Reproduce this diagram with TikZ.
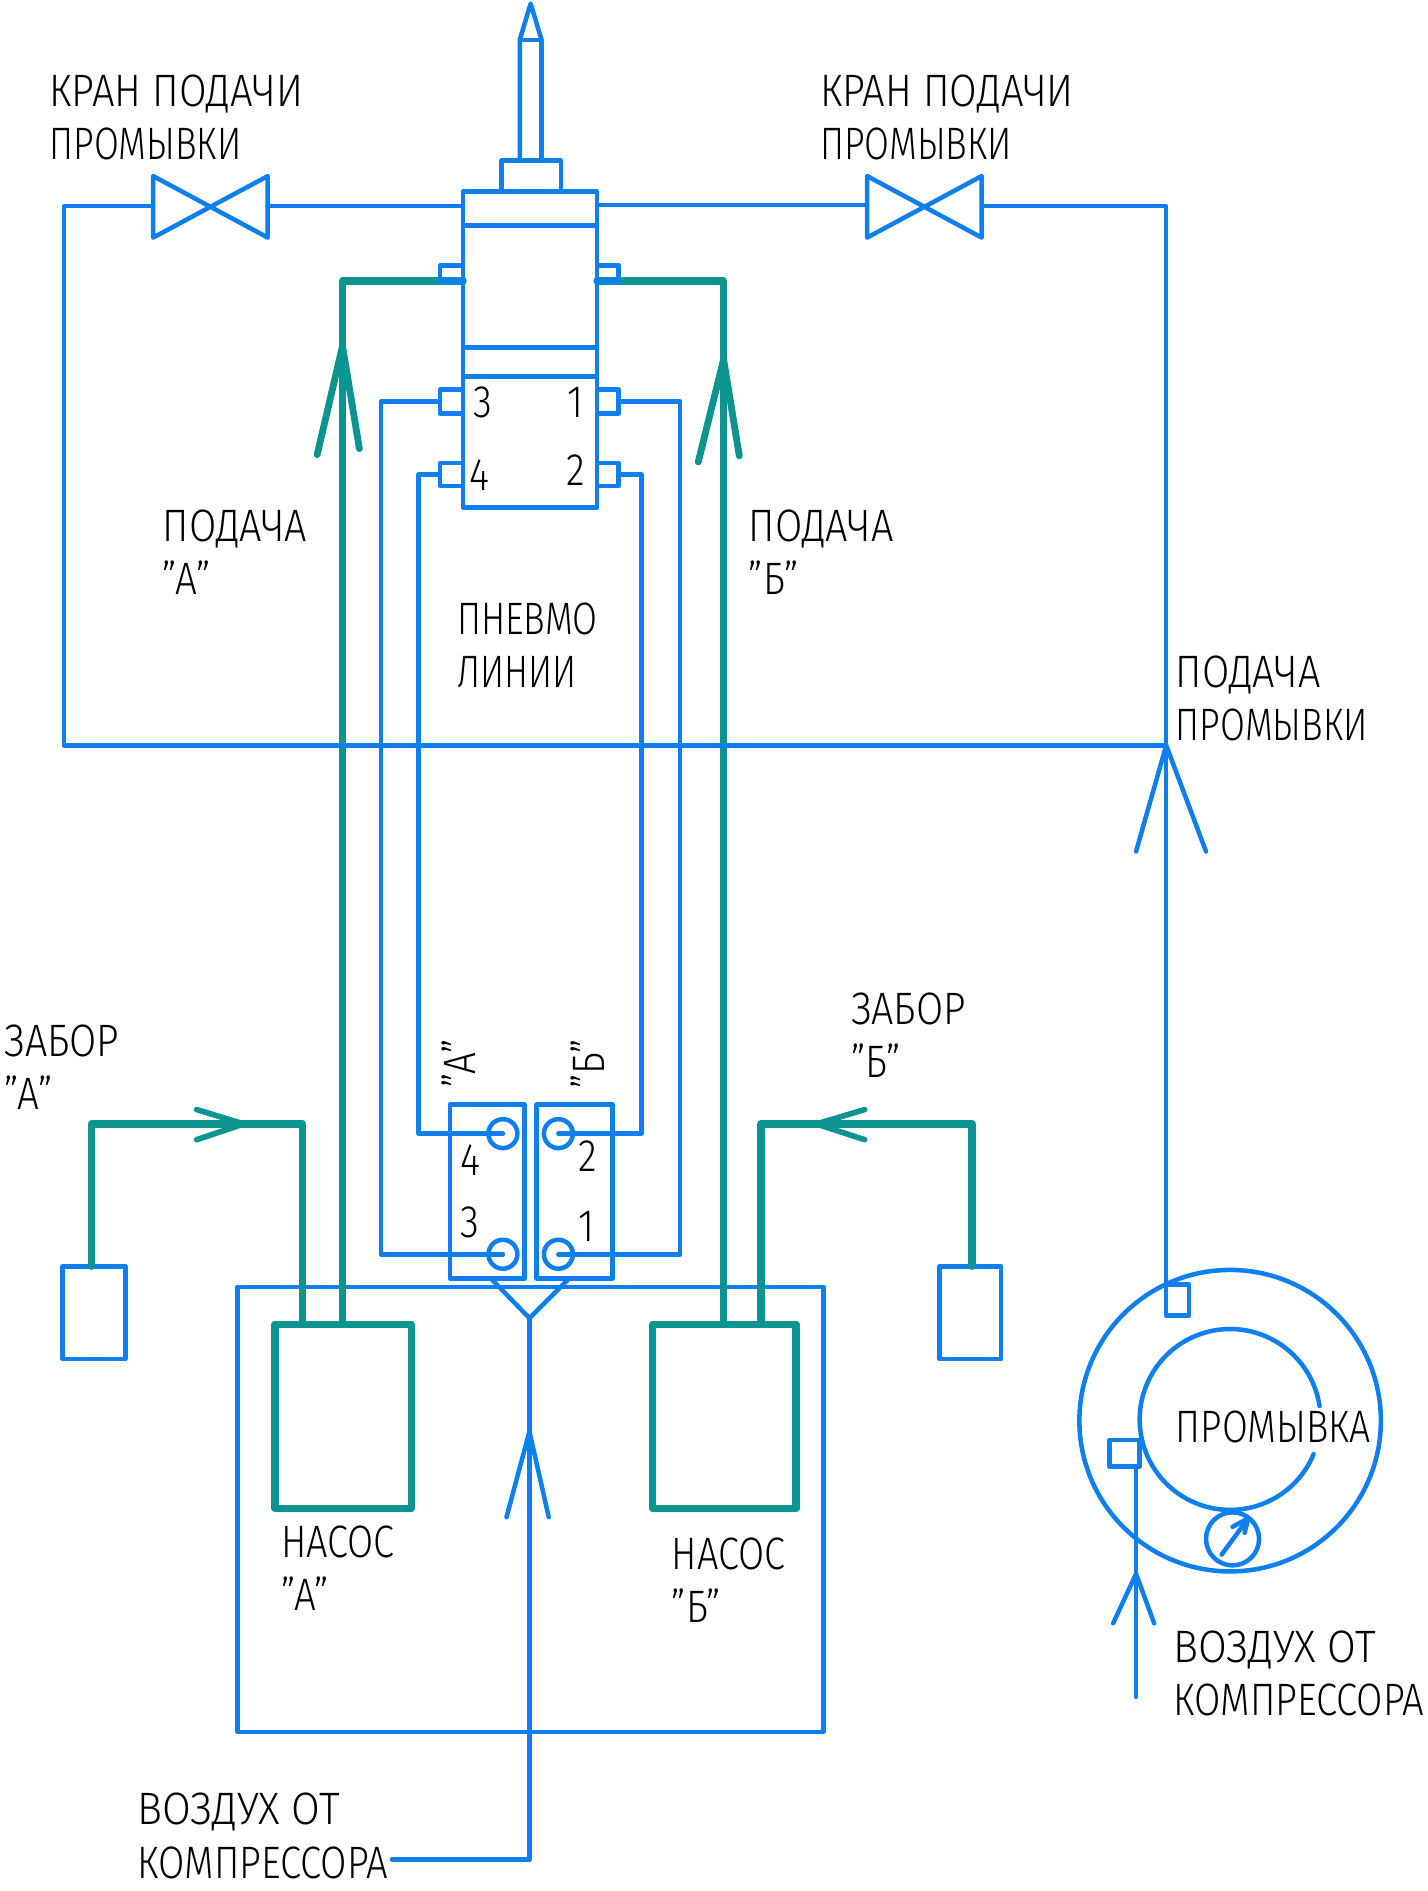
\documentclass[tikz,border=0pt]{standalone}
\usepackage{fontspec}
\setmainfont{Fira Sans Light}[FakeStretch=0.85]
\definecolor{lineblue}{HTML}{0F7FEE}
\definecolor{pipegreen}{HTML}{0C9490}
\newcommand\lblfont{\fontsize{22.6}{26.4}\selectfont}
\newcommand\sx[2]{\scalebox{#1}[1]{#2}}
\newcommand\nbx[6]{\node[#6,minimum width={(#4-#2)*0.6pt},minimum height={(#5-#3)*0.6pt}] (#1) at ({(#2+#4)/2},{(#3+#5)/2}) {};}
\tikzset{
  bl/.style={draw=lineblue,line width=2.25pt,line join=round,line cap=round},
  gr/.style={draw=pipegreen,line width=3.6pt,line join=round,line cap=round},
  gbar/.style={draw=pipegreen,line width=3.4pt,line join=round,line cap=round},
  boxb/.style={rectangle,bl,inner sep=0pt,outer sep=0pt},
  boxg/.style={rectangle,gr,inner sep=0pt,outer sep=0pt},
  circ/.style={circle,bl,inner sep=0pt,outer sep=0pt},
  lbl/.style={anchor=north west,inner sep=0pt,outer sep=0pt,align=left,font=\lblfont,text=black},
  num/.style={anchor=center,inner sep=0pt,outer sep=0pt,font=\lblfont,text=black}
}
\begin{document}
\begin{tikzpicture}[x=0.6pt,y=-0.6pt]
\useasboundingbox (0,0) rectangle (1184,1568);
% apparatus body
\nbx{collar}{416}{133}{465}{159}{boxb}
\nbx{body}{384}{159}{495}{421}{boxb}
\coordinate (nbl) at (431,133); \coordinate (nbr) at (449,133);
\coordinate (nsl) at (431,33); \coordinate (nsr) at (449,33); \coordinate (ntip) at (440,3);
\draw[bl] (nbl) -- (nsl) -- (ntip) -- (nsr) -- (nbr);
\draw[bl] (nsl) -- (nsr);
\coordinate (b1l) at (384,187); \coordinate (b1r) at (495,187);
\coordinate (b2l) at (384,288); \coordinate (b2r) at (495,288);
\coordinate (b3l) at (384,312); \coordinate (b3r) at (495,312);
\draw[bl] (b1l) -- (b1r); \draw[bl] (b2l) -- (b2r); \draw[bl] (b3l) -- (b3r);
% ports
\nbx{pL}{365}{220}{384}{233}{boxb}
\nbx{pR}{495}{220}{513}{233}{boxb}
\nbx{p3}{365}{323}{384}{343}{boxb}
\nbx{p1}{495}{323}{513}{343}{boxb}
\nbx{p4}{365}{384}{384}{403}{boxb}
\nbx{p2}{495}{384}{513}{403}{boxb}
% distributors
\nbx{mA}{373}{916}{435}{1060}{boxb}
\nbx{mB}{445}{916}{508}{1060}{boxb}
\nbx{c4}{405}{928}{429}{952}{circ}
\nbx{c2}{451}{928}{475}{952}{circ}
\nbx{c3}{405}{1028}{429}{1052}{circ}
\nbx{c1}{451}{1028}{475}{1052}{circ}
\coordinate (x316) at (316,700); \coordinate (x347) at (347,700);
\coordinate (x532) at (532,700); \coordinate (x564) at (564,700);
\draw[bl] (p3.west) -| (x316) |- (c3.center);
\draw[bl] (p4.west) -| (x347) |- (c4.center);
\draw[bl] (p1.east) -| (x564) |- (c1.center);
\draw[bl] (p2.east) -| (x532) |- (c2.center);
% pump box and air
\nbx{pumpbox}{197}{1067}{683}{1436}{boxb}
\coordinate (yL) at (407,1060); \coordinate (yR) at (472,1060); \coordinate (yM) at (439,1093);
\coordinate (airend) at (325,1542);
\draw[bl] (yL) -- (yM) -- (yR);
\draw[bl] (yM) |- (airend);
\coordinate (aa) at (439,1187); \coordinate (aal) at (420,1258); \coordinate (aar) at (455,1258);
\draw[bl] (aal) -- (aa) -- (aar);
% pumps
\nbx{pumpA}{228}{1098}{341}{1251}{boxg}
\nbx{pumpB}{541}{1098}{660}{1251}{boxg}
\coordinate (gL) at (284,1098); \coordinate (gR) at (600,1098);
\draw[gr] (pL.south east) -| (gL);
\draw[gr] (pR.south west) -| (gR);
\draw[bl,line width=3.2pt] (pL.south west) -- (pL.south east);
\draw[bl,line width=3.2pt] (pR.south west) -- (pR.south east);
\coordinate (fa) at (284,287); \coordinate (fal) at (263,377); \coordinate (far) at (298,372);
\coordinate (fb) at (600,298); \coordinate (fbl) at (579,383); \coordinate (fbr) at (613,378);
\draw[gbar] (fal) -- (fa) -- (far);
\draw[gbar] (fbl) -- (fb) -- (fbr);
% intake
\nbx{tA}{52}{1050}{104}{1127}{boxb}
\nbx{tB}{779}{1050}{830}{1127}{boxb}
\coordinate (iA) at (251,1098); \coordinate (iB) at (631,1098);
\coordinate (iAc) at (251,932); \coordinate (iBc) at (631,932);
\coordinate (tAc) at (76,932); \coordinate (tBc) at (806,932);
\coordinate (tAt) at (76,1050); \coordinate (tBt) at (806,1050);
\draw[gr] (iA) -- (iAc) -- (tAc) -- (tAt);
\draw[gr] (iB) -- (iBc) -- (tBc) -- (tBt);
\coordinate (za) at (202,932); \coordinate (zau) at (163,920); \coordinate (zad) at (163,945);
\coordinate (zb) at (677,932); \coordinate (zbu) at (717,920); \coordinate (zbd) at (717,945);
\draw[gbar,line width=2.8pt] (zau) -- (za) -- (zad);
\draw[gbar,line width=2.8pt] (zbu) -- (zb) -- (zbd);
% flush lines and valves
\coordinate (vLa) at (127,146); \coordinate (vLb) at (222,197); \coordinate (vLc) at (222,146); \coordinate (vLd) at (127,197);
\coordinate (vRa) at (719,146); \coordinate (vRb) at (814,197); \coordinate (vRc) at (814,146); \coordinate (vRd) at (719,197);
\draw[bl] (vLa) -- (vLb) -- (vLc) -- (vLd) -- cycle;
\draw[bl] (vRa) -- (vRb) -- (vRc) -- (vRd) -- cycle;
\coordinate (vLw) at (127,171); \coordinate (vLe) at (222,171);
\coordinate (vRw) at (719,170); \coordinate (vRe) at (814,171);
\coordinate (fc1) at (53,171); \coordinate (fc2) at (53,618); \coordinate (fj) at (967,618); \coordinate (fc3) at (967,171);
\nbx{st}{967}{1065}{986}{1091}{boxb}
\coordinate (bodyL) at (384,171); \coordinate (bodyR) at (495,170);
\draw[bl] (vLw) -- (fc1) -- (fc2) -- (fj);
\draw[bl] (vLe) -- (bodyL);
\draw[bl] (bodyR) -- (vRw);
\draw[bl] (vRe) -- (fc3) -- (st.north west);
\coordinate (fal2) at (942,706); \coordinate (far2) at (1000,706);
\draw[bl] (fal2) -- (fj) -- (far2);
% flush tank
\coordinate (tank) at (1020,1177);
\nbx{outer}{895}{1053}{1145}{1303}{circ}
\draw[bl] (tank) ++(22.6:75) arc[start angle=22.6,end angle=351.4,radius=75];
\nbx{gauge}{1000}{1254}{1044}{1298}{circ}
\coordinate (ga) at (1013,1289); \coordinate (gb) at (1035,1259); \coordinate (gc) at (1022,1266); \coordinate (gd) at (1032,1271);
\draw[bl] (ga) -- (gb); \draw[bl] (gc) -- (gb) -- (gd);
\nbx{sa}{920}{1194}{945}{1216}{boxb}
\coordinate (sae) at (942,1407); \coordinate (sat) at (942,1216);
\draw[bl] (sae) -- (sat);
\coordinate (sb) at (942,1305); \coordinate (sbl) at (923,1346); \coordinate (sbr) at (957,1346);
\draw[bl] (sbl) -- (sb) -- (sbr);
% labels
\node[lbl] (t1) at (41,62) {\sx{1.035}{КРАН ПОДАЧИ}\\\sx{.935}{ПРОМЫВКИ}};
\node[lbl] (t2) at (680,62) {\sx{1.035}{КРАН ПОДАЧИ}\\\sx{.935}{ПРОМЫВКИ}};
\node[lbl] (t3) at (135,423) {\sx{1.025}{ПОДАЧА}\\"А"};
\node[lbl] (t4) at (621,423) {\sx{1.025}{ПОДАЧА}\\"Б"};
\node[lbl] (t5) at (379,500) {\sx{.935}{ПНЕВМО}\\\sx{.925}{ЛИНИИ}};
\node[lbl] (t6) at (975,544) {\sx{1.025}{ПОДАЧА}\\\sx{.935}{ПРОМЫВКИ}};
\node[lbl] (t7) at (4,850) {\sx{1.02}{ЗАБОР}\\"А"};
\node[lbl] (t8) at (706,823) {\sx{1.02}{ЗАБОР}\\"Б"};
\node[lbl] (t9) at (233,1265) {\sx{.98}{НАСОС}\\"А"};
\node[lbl] (t10) at (557,1275) {\sx{.98}{НАСОС}\\"Б"};
\node[lbl] (t11) at (975,1170) {\sx{.97}{ПРОМЫВКА}};
\node[lbl] (t12) at (973,1352) {\sx{1.08}{ВОЗДУХ ОТ}\\\sx{.99}{КОМПРЕССОРА}};
\node[lbl] (t13) at (114,1487) {\sx{1.08}{ВОЗДУХ ОТ}\\\sx{.99}{КОМПРЕССОРА}};
\node[num,rotate=90] (t14) at (380,882) {"А"};
\node[num,rotate=90] (t15) at (487,882) {"Б"};
\node[num] (n3) at (400,334) {3};
\node[num] (n1) at (477,334) {1};
\node[num] (n4) at (398,394) {4};
\node[num] (n2) at (477,390) {2};
\node[num] (m4) at (390,962) {4};
\node[num] (m3) at (390,1014) {3};
\node[num] (m2) at (487,959) {2};
\node[num] (m1) at (486,1017) {1};
\end{tikzpicture}
\end{document}
